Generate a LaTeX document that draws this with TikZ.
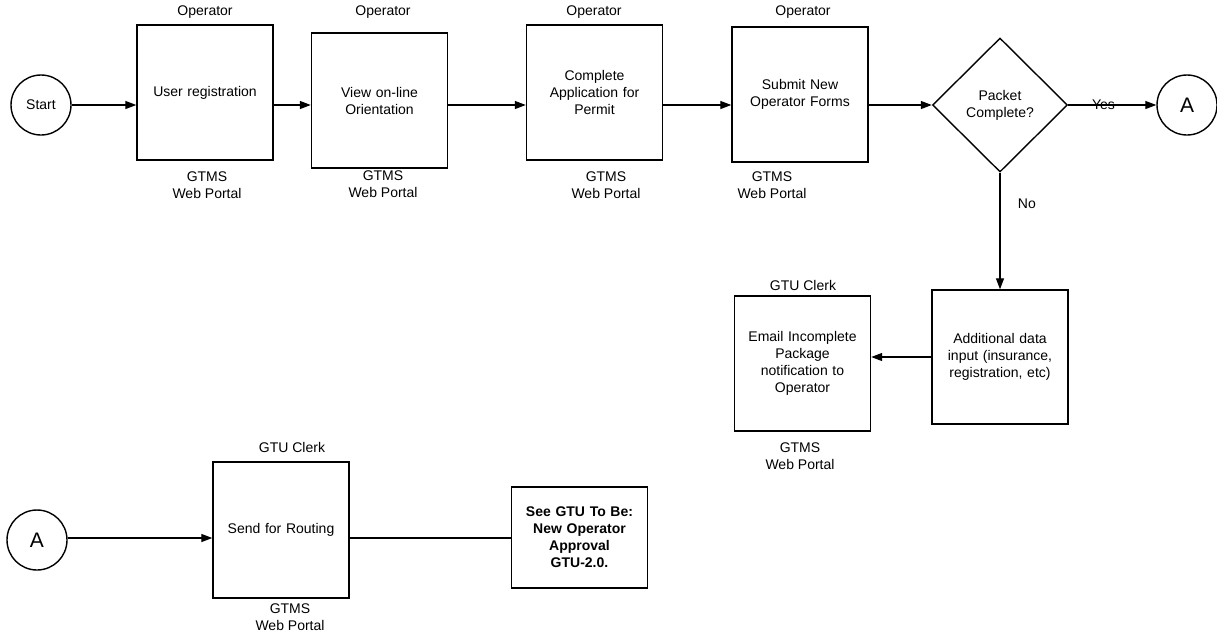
\documentclass[tikz,border=0pt]{standalone}
\usepackage{fontspec}
\setmainfont{Liberation Sans}
\usetikzlibrary{arrows.meta,shapes.geometric}
\begin{document}
\begin{tikzpicture}[x=1pt,y=-1pt,
  every node/.style={font=\fontsize{14}{17}\selectfont, align=center},
  box/.style={draw, line width=1.4pt, rectangle, inner sep=0pt, minimum width=#1, text width=128pt},
  box/.default=136pt,
  circ/.style={draw, line width=1.4pt, circle, inner sep=0pt, minimum size=60pt},
  arr/.style={line width=1.3pt, -{Triangle[length=11pt,width=8pt]}},
  ln/.style={line width=1.3pt},
  bold/.style={font=\bfseries\fontsize{14}{17}\selectfont}
]
\useasboundingbox (0,0) rectangle (1217,638);

% top row
\node[circ] (start) at (41,105) {Start};

\node[box, minimum height=135pt] (b1) at (205,92.5) {User registration};
\node[box, minimum height=135pt] (b2) at (379.5,100.5) {View on-line\\Orientation};
\node[box, minimum height=135pt] (b3) at (594.5,92.5) {Complete\\Application for\\Permit};
\node[box, minimum height=135pt] (b4) at (800,94.5) {Submit New\\Operator Forms};

\node (o1) at (205,12) {Operator};
\node (o2) at (383,12) {Operator};
\node (o3) at (594,12) {Operator};
\node (o4) at (803,12) {Operator};

\node (g1) at (207,185) {GTMS\\Web Portal};
\node (g2) at (383,184) {GTMS\\Web Portal};
\node (g3) at (606,185) {GTMS\\Web Portal};
\node (g4) at (772,185) {GTMS\\Web Portal};

\node[draw, line width=1.4pt, diamond, inner sep=0pt, minimum width=135pt, minimum height=134pt] (d) at (1000,105) {Packet\\Complete?};
\node[circ, font=\fontsize{21}{24}\selectfont] (a1) at (1187,105) {A};

\draw[arr] (start) -- (start -| b1.west);
\draw[arr] (b1.east |- start) -- (b2.west |- start);
\draw[arr] (b2.east |- start) -- (b3.west |- start);
\draw[arr] (b3.east |- start) -- (b4.west |- start);
\draw[arr] (b4.east |- d.west) -- (d.west);
\draw[arr] (d.east) -- node[pos=0.4] (yes) {Yes} (a1);

% right branch
\node[box, minimum height=134pt] (add) at (1000,357) {Additional data\\input (insurance,\\registration, etc)};
\node[box, minimum height=135pt] (em) at (802.5,363.5) {Email Incomplete\\Package\\notification to\\Operator};
\node (c1) at (803,285) {GTU Clerk};
\node (g5) at (800,456) {GTMS\\Web Portal};

\draw[arr] (d.south) -- node[right=14pt, pos=0.27] (no) {No} (add.north);
\draw[arr] (add.west |- 0,357) -- (em.east |- 0,357);

% bottom row
\node[circ, font=\fontsize{21}{24}\selectfont] (a2) at (37,540) {A};
\node[box, minimum height=136pt] (sr) at (281,530) {Send for Routing};
\node (c2) at (292,447) {GTU Clerk};
\node (g6) at (290,617) {GTMS\\Web Portal};
\node[box, minimum height=101pt, bold] (see) at (579.5,537.5) {See GTU To Be:\\New Operator\\Approval\\GTU-2.0.};

\draw[arr] (a2.east |- 0,538) -- (sr.west |- 0,538);
\draw[ln] (sr.east |- 0,538) -- (see.west |- 0,538);
\end{tikzpicture}
\end{document}
